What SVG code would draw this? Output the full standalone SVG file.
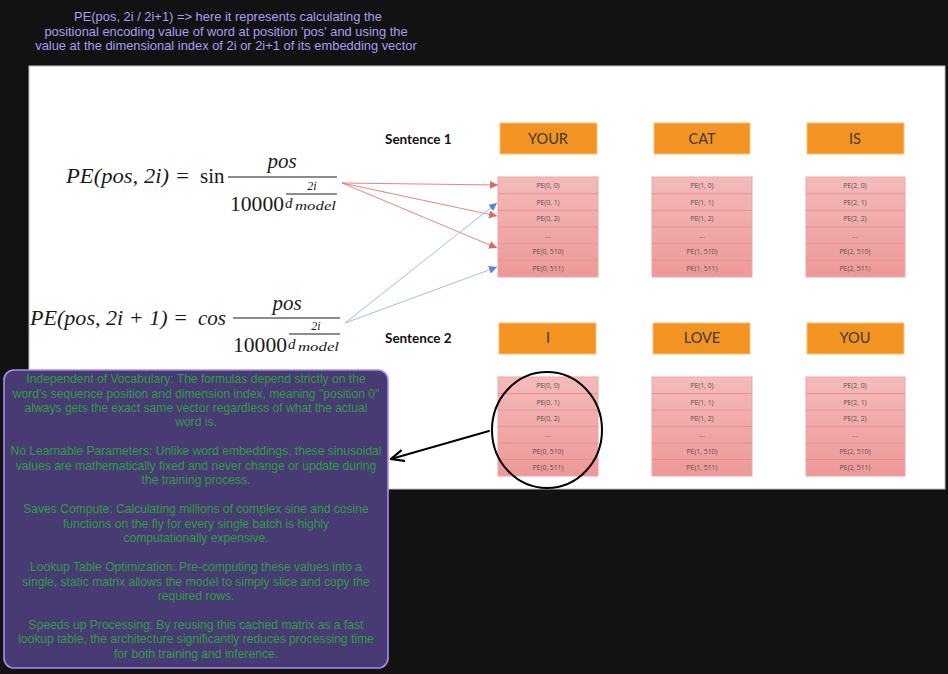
<svg xmlns="http://www.w3.org/2000/svg" width="948" height="674" viewBox="0 0 948 674">
<style>
.note{font-family:"Liberation Sans",Arial,sans-serif;font-size:12.1px;fill:#2f9e44;text-anchor:middle}
.top{font-family:"Liberation Sans",Arial,sans-serif;font-size:12.9px;fill:#a99cf5;text-anchor:middle}
.math{font-family:"Liberation Serif","DejaVu Serif",serif;fill:#1a1a1a}
.it{font-style:italic}
.hdr{fill:#f39322;stroke:#f7c27e;stroke-width:1}
.hdrt{font-family:Lato,"Open Sans",sans-serif;font-size:14.5px;fill:#3a3a3a;text-anchor:middle}
.sent{font-family:Lato,"Open Sans",sans-serif;font-size:13.5px;font-weight:bold;fill:#111}
.tbl{fill:url(#pink);stroke:#f0a5a5;stroke-width:1}
.sep{stroke:#e49090;stroke-width:1}
.cell{font-family:"Open Sans","Liberation Sans",sans-serif;font-size:6.8px;fill:#555;text-anchor:middle}
.red{stroke:#e07878;stroke-width:0.9;fill:none}
.blue{stroke:#9ab3e6;stroke-width:0.9;fill:none}
</style>
<defs>
<linearGradient id="pink" x1="0" y1="0" x2="0" y2="1">
<stop offset="0" stop-color="#f4baba"/>
<stop offset="1" stop-color="#ee9898"/>
</linearGradient>
<marker id="mr" viewBox="0 0 10 10" refX="10" refY="5" markerWidth="8" markerHeight="8" markerUnits="userSpaceOnUse" orient="auto">
<path d="M0,0 L10,5 L0,10 Z" fill="#e06666"/>
</marker>
<marker id="mb" viewBox="0 0 10 10" refX="10" refY="5" markerWidth="8" markerHeight="8" markerUnits="userSpaceOnUse" orient="auto">
<path d="M0,0 L10,5 L0,10 Z" fill="#4f86e0"/>
</marker>
<marker id="mk" viewBox="0 0 10 10" refX="9" refY="5" markerWidth="14" markerHeight="14" markerUnits="userSpaceOnUse" orient="auto">
<path d="M0,1 L9,5 L0,9" fill="none" stroke="#000" stroke-width="1.6" stroke-linecap="round"/>
</marker>
</defs>
<rect width="948" height="674" fill="#121212"/>

<g id="top-note">
<text class="top" x="228" y="21">PE(pos, 2i / 2i+1) =&gt; here it represents calculating the</text>
<text class="top" x="226" y="36">positional encoding value of word at position 'pos' and using the</text>
<text class="top" x="226" y="50">value at the dimensional index of 2i or 2i+1 of its embedding vector</text>
</g>

<g id="slide">
<rect x="29" y="66" width="916" height="423" fill="#ffffff" stroke="#bdbdbd" stroke-width="1"/>
</g>

<g id="formula-sin" class="math">
<text class="it" x="66" y="183" font-size="21" textLength="124" lengthAdjust="spacingAndGlyphs">PE(pos, 2i) =</text>
<text x="200" y="183" font-size="21">sin</text>
<text class="it" x="282" y="168" font-size="21" text-anchor="middle">pos</text>
<line x1="228" y1="177" x2="337" y2="177" stroke="#1a1a1a" stroke-width="1.2"/>
<text x="230" y="211" font-size="21" textLength="54" lengthAdjust="spacingAndGlyphs">10000</text>
<text class="it" x="312" y="190" font-size="12" text-anchor="middle">2i</text>
<line x1="286" y1="194" x2="337" y2="194" stroke="#1a1a1a" stroke-width="1"/>
<text class="it" x="285" y="208" font-size="15">d</text>
<text class="it" x="295" y="210" font-size="12.5" textLength="41" lengthAdjust="spacingAndGlyphs">model</text>
</g>

<g id="formula-cos" class="math">
<text class="it" x="30" y="325" font-size="21" textLength="158" lengthAdjust="spacingAndGlyphs">PE(pos, 2i + 1) =</text>
<text class="it" x="198" y="325" font-size="21">cos</text>
<text class="it" x="287" y="310" font-size="21" text-anchor="middle">pos</text>
<line x1="233" y1="318" x2="340" y2="318" stroke="#1a1a1a" stroke-width="1.2"/>
<text x="233" y="352" font-size="21" textLength="54" lengthAdjust="spacingAndGlyphs">10000</text>
<text class="it" x="316" y="330" font-size="12" text-anchor="middle">2i</text>
<line x1="289" y1="334" x2="340" y2="334" stroke="#1a1a1a" stroke-width="1"/>
<text class="it" x="288" y="349" font-size="15">d</text>
<text class="it" x="298" y="351" font-size="12.5" textLength="41" lengthAdjust="spacingAndGlyphs">model</text>
</g>

<g id="label-sentence1"><text class="sent" x="385" y="144">Sentence 1</text></g>
<g id="label-sentence2"><text class="sent" x="385" y="343">Sentence 2</text></g>

<g id="hdr-your"><rect class="hdr" x="500" y="123" width="97" height="31"/><text class="hdrt" x="548" y="144">YOUR</text></g>
<g id="hdr-cat"><rect class="hdr" x="654" y="123" width="96" height="31"/><text class="hdrt" x="702" y="144">CAT</text></g>
<g id="hdr-is"><rect class="hdr" x="807" y="123" width="97" height="31"/><text class="hdrt" x="855" y="144">IS</text></g>
<g id="hdr-i"><rect class="hdr" x="499" y="323" width="97" height="31"/><text class="hdrt" x="548" y="343">I</text></g>
<g id="hdr-love"><rect class="hdr" x="653" y="323" width="97" height="31"/><text class="hdrt" x="702" y="343">LOVE</text></g>
<g id="hdr-you"><rect class="hdr" x="807" y="323" width="97" height="31"/><text class="hdrt" x="855" y="343">YOU</text></g>

<g id="table-s1-0">
<rect class="tbl" x="498" y="177" width="100" height="100"/>
<path class="sep" d="M498,193.7H598M498,210.3H598M498,227H598M498,243.7H598M498,260.3H598"/>
<text class="cell" x="548" y="188">PE(0, 0)</text><text class="cell" x="548" y="204.5">PE(0, 1)</text><text class="cell" x="548" y="221">PE(0, 2)</text><text class="cell" x="548" y="237.5">...</text><text class="cell" x="548" y="254">PE(0, 510)</text><text class="cell" x="548" y="271">PE(0, 511)</text>
</g>
<g id="table-s1-1">
<rect class="tbl" x="652" y="177" width="100" height="100"/>
<path class="sep" d="M652,193.7H752M652,210.3H752M652,227H752M652,243.7H752M652,260.3H752"/>
<text class="cell" x="702" y="188">PE(1, 0)</text><text class="cell" x="702" y="204.5">PE(1, 1)</text><text class="cell" x="702" y="221">PE(1, 2)</text><text class="cell" x="702" y="237.5">...</text><text class="cell" x="702" y="254">PE(1, 510)</text><text class="cell" x="702" y="271">PE(1, 511)</text>
</g>
<g id="table-s1-2">
<rect class="tbl" x="806" y="177" width="99" height="100"/>
<path class="sep" d="M806,193.7H905M806,210.3H905M806,227H905M806,243.7H905M806,260.3H905"/>
<text class="cell" x="855" y="188">PE(2, 0)</text><text class="cell" x="855" y="204.5">PE(2, 1)</text><text class="cell" x="855" y="221">PE(2, 2)</text><text class="cell" x="855" y="237.5">...</text><text class="cell" x="855" y="254">PE(2, 510)</text><text class="cell" x="855" y="271">PE(2, 511)</text>
</g>
<g id="table-s2-0">
<rect class="tbl" x="498" y="377" width="100" height="99"/>
<path class="sep" d="M498,393.5H598M498,410H598M498,426.5H598M498,443H598M498,459.5H598"/>
<text class="cell" x="548" y="388">PE(0, 0)</text><text class="cell" x="548" y="404.5">PE(0, 1)</text><text class="cell" x="548" y="421">PE(0, 2)</text><text class="cell" x="548" y="437">...</text><text class="cell" x="548" y="453.5">PE(0, 510)</text><text class="cell" x="548" y="470">PE(0, 511)</text>
</g>
<g id="table-s2-1">
<rect class="tbl" x="652" y="377" width="100" height="99"/>
<path class="sep" d="M652,393.5H752M652,410H752M652,426.5H752M652,443H752M652,459.5H752"/>
<text class="cell" x="702" y="388">PE(1, 0)</text><text class="cell" x="702" y="404.5">PE(1, 1)</text><text class="cell" x="702" y="421">PE(1, 2)</text><text class="cell" x="702" y="437">...</text><text class="cell" x="702" y="453.5">PE(1, 510)</text><text class="cell" x="702" y="470">PE(1, 511)</text>
</g>
<g id="table-s2-2">
<rect class="tbl" x="806" y="377" width="99" height="99"/>
<path class="sep" d="M806,393.5H905M806,410H905M806,426.5H905M806,443H905M806,459.5H905"/>
<text class="cell" x="855" y="388">PE(2, 0)</text><text class="cell" x="855" y="404.5">PE(2, 1)</text><text class="cell" x="855" y="421">PE(2, 2)</text><text class="cell" x="855" y="437">...</text><text class="cell" x="855" y="453.5">PE(2, 510)</text><text class="cell" x="855" y="470">PE(2, 511)</text>
</g>

<g id="highlight-circle">
<ellipse cx="547" cy="430" rx="55" ry="58" fill="none" stroke="#000" stroke-width="2"/>
</g>

<g id="explain-note">
<rect x="4" y="370" width="384" height="298" rx="10" fill="#483a73" stroke="#a98ff0" stroke-width="1.6"/>
<text class="note" x="196" y="383">Independent of Vocabulary: The formulas depend strictly on the</text>
<text class="note" x="196" y="397.5">word's sequence position and dimension index, meaning "position 0"</text>
<text class="note" x="196" y="412">always gets the exact same vector regardless of what the actual</text>
<text class="note" x="196" y="426.4">word is.</text>
<text class="note" x="196" y="455.4">No Learnable Parameters: Unlike word embeddings, these sinusoidal</text>
<text class="note" x="196" y="469.8">values are mathematically fixed and never change or update during</text>
<text class="note" x="196" y="484.3">the training process.</text>
<text class="note" x="196" y="513.2">Saves Compute: Calculating millions of complex sine and cosine</text>
<text class="note" x="196" y="527.7">functions on the fly for every single batch is highly</text>
<text class="note" x="196" y="542.2">computationally expensive.</text>
<text class="note" x="196" y="571.1">Lookup Table Optimization: Pre-computing these values into a</text>
<text class="note" x="196" y="585.6">single, static matrix allows the model to simply slice and copy the</text>
<text class="note" x="196" y="600">required rows.</text>
<text class="note" x="196" y="629">Speeds up Processing: By reusing this cached matrix as a fast</text>
<text class="note" x="196" y="643.4">lookup table, the architecture significantly reduces processing time</text>
<text class="note" x="196" y="657.9">for both training and inference.</text>
</g>

<g id="connectors">
<line class="red" x1="342" y1="183" x2="498" y2="185" marker-end="url(#mr)"/>
<line class="red" x1="342" y1="183" x2="497" y2="216" marker-end="url(#mr)"/>
<line class="red" x1="342" y1="183" x2="497" y2="248" marker-end="url(#mr)"/>
<line class="blue" x1="345" y1="323" x2="497" y2="203" marker-end="url(#mb)"/>
<line class="blue" x1="345" y1="323" x2="497" y2="267" marker-end="url(#mb)"/>
<path d="M489,431 L391,459" fill="none" stroke="#000" stroke-width="2" stroke-linecap="round" marker-end="url(#mk)"/>
</g>
</svg>
